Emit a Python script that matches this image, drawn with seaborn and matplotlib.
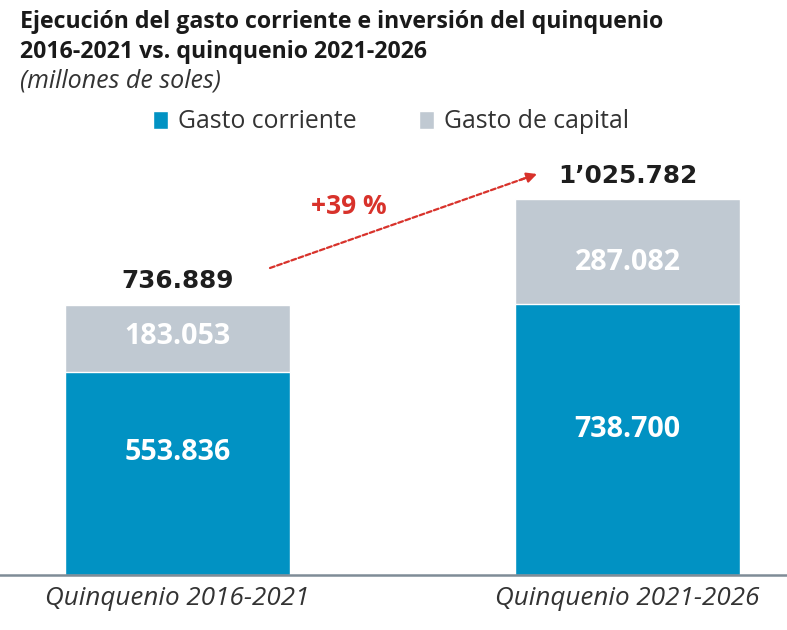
import pandas as pd
import matplotlib.pyplot as plt
import seaborn as sns
from matplotlib.patches import Patch

# datos (millones de soles)
periodos = ['Quinquenio 2016-2021', 'Quinquenio 2021-2026']
gasto_corriente = [553.836, 738.700]
gasto_capital = [183.053, 287.082]
etiquetas_total = ['736.889', '1\u2019025.782']
etiquetas_corriente = ['553.836', '738.700']
etiquetas_capital = ['183.053', '287.082']

AZUL = '#0192C3'
GRIS = '#C0C9D2'
ROJO = '#D8322B'

df = pd.DataFrame({'periodo': periodos,
                   'corriente': gasto_corriente,
                   'capital': gasto_capital})
df['total'] = df['corriente'] + df['capital']

sns.set_style('white')
plt.rcParams['font.family'] = ['Open Sans', 'DejaVu Sans']

fig = plt.figure(figsize=(7.87, 6.3), dpi=100)
ax = fig.add_axes([0, 55 / 630, 1, 415 / 630])

sns.barplot(data=df, x='periodo', y='total', color=GRIS, width=0.5,
            saturation=1, ax=ax)
sns.barplot(data=df, x='periodo', y='corriente', color=AZUL, width=0.5,
            saturation=1, ax=ax)

ax.set_xlim(-177.5 / 450, 1 + (787 - 627.5) / 450)
ax.set_ylim(0, 1132.6)
ax.set_xlabel('')
ax.set_ylabel('')
ax.set_yticks([])
for s in ['top', 'right', 'left']:
    ax.spines[s].set_visible(False)
ax.spines['bottom'].set_color('#7F8C97')
ax.spines['bottom'].set_linewidth(1.8)
ax.tick_params(axis='x', length=0, pad=8)
ax.set_xticks(range(len(periodos)))
ax.set_xticklabels(periodos, fontsize=18.7, fontstyle='italic', color='#333333')

# posicion relativa de las etiquetas dentro de cada tramo
frac_corr = [0.606, 0.536]
frac_cap = [0.523, 0.393]

for i, row in df.iterrows():
    ax.text(i, row['corriente'] * frac_corr[i], etiquetas_corriente[i],
            ha='center', va='center', color='white', fontsize=20.6,
            fontweight='bold')
    ax.text(i, row['corriente'] + row['capital'] * frac_cap[i],
            etiquetas_capital[i], ha='center', va='center', color='white',
            fontsize=20.6, fontweight='bold')
    ax.annotate(etiquetas_total[i], xy=(i, row['total']),
                xytext=(0, 17), textcoords='offset points',
                ha='center', va='center', fontsize=17.8, fontweight='bold',
                color='#1E1E1E', family='DejaVu Sans')

# flecha de crecimiento
p0 = (270 / 787, 1 - 268 / 630)
p1 = (537 / 787, 1 - 174 / 630)
ax.annotate('', xy=p1, xytext=p0, xycoords='figure fraction',
            textcoords='figure fraction',
            arrowprops=dict(arrowstyle='-', color=ROJO, lw=1.6,
                            linestyle=(0, (2.2, 1.2)), shrinkA=0, shrinkB=4))
pm = (p1[0] - 0.02, p1[1] - 0.02 * (p1[1] - p0[1]) / (p1[0] - p0[0]))
ax.annotate('', xy=p1, xytext=pm, xycoords='figure fraction',
            textcoords='figure fraction',
            arrowprops=dict(arrowstyle='-|>,head_length=0.6,head_width=0.3',
                            color=ROJO, lw=1.6, shrinkA=0, shrinkB=0))
fig.text(349 / 787, 1 - 207 / 630, '+39 %', color=ROJO, fontsize=19,
         fontweight='bold', ha='center', va='center')

# titulos
fig.text(20 / 787, 1 - 28 / 630,
         'Ejecución del gasto corriente e inversión del quinquenio',
         fontsize=16.7, fontweight='bold', color='#1A1A1A', va='baseline')
fig.text(20 / 787, 1 - 58 / 630, '2016-2021 vs. quinquenio 2021-2026',
         fontsize=16.7, fontweight='bold', color='#1A1A1A', va='baseline')
fig.text(20 / 787, 1 - 87 / 630, '(millones de soles)', fontsize=18,
         fontstyle='italic', color='#333333', va='baseline')

handles = [Patch(facecolor=AZUL, label='Gasto corriente'),
           Patch(facecolor=GRIS, label='Gasto de capital')]
fig.legend(handles=handles, loc='center', bbox_to_anchor=(0.497, 1 - 122 / 630),
           ncol=2, frameon=False, fontsize=17.8, handlelength=0.62,
           handleheight=0.7, handletextpad=0.4, columnspacing=2.5,
           labelcolor='#333333')

fig.savefig('out.png', dpi=100)
